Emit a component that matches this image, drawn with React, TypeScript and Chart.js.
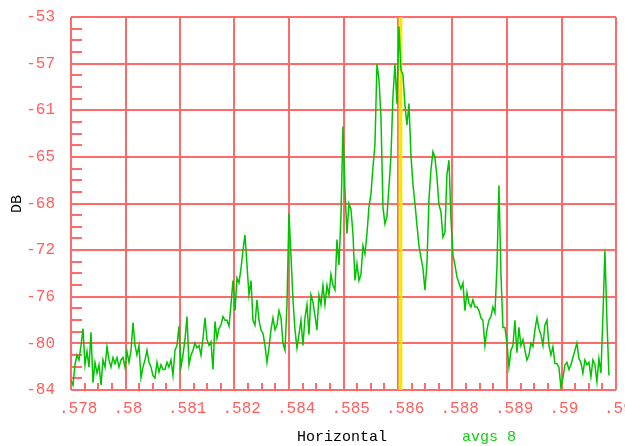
import { useEffect, useRef } from 'react';
import { Chart, registerables } from 'chart.js';

Chart.register(...registerables);

// Frequency bins (evenly spaced spectrum bins)
const freqStart = 0.5782;
const freqStep = 0.0000488;

// Spectrum magnitude in dB
const dbValues = [
  -83.2, -83.6, -81.9, -81.1, -81.5, -80.3, -78.9, -81.9, -80.8, -82.1,
  -79.2, -83.4, -81.7, -82.6, -81.9, -83.6, -81.5, -82.1, -80.4, -81.5,
  -82.1, -81.3, -81.8, -81.3, -82.1, -81.5, -81.3, -82.1, -80.8, -81.7,
  -80.7, -78.4, -80.3, -81.1, -80.3, -83.0, -82.1, -81.5, -80.7, -81.7,
  -82.1, -82.8, -83.0, -81.7, -82.5, -81.9, -82.3,
  -82.3, -81.7, -82.1, -81.5, -82.8, -80.7, -80.3, -78.7, -82.1, -81.1,
  -79.8, -77.9, -81.9, -81.1, -80.7, -80.1, -80.5, -80.3, -81.1, -79.7,
  -78.0, -79.8, -80.3, -80.0, -82.3, -78.3, -79.7, -78.9, -78.6, -77.9,
  -78.2, -78.2, -78.7, -76.9, -74.9, -77.4, -74.7, -75.1, -73.9, -72.4,
  -71.1, -73.6, -76.1, -74.9, -78.2,
  -78.6, -76.5, -78.2, -79.0, -79.3, -80.3, -81.7, -80.5, -79.0, -78.0,
  -79.0, -78.6, -77.4, -78.0, -80.1, -80.7, -76.9, -69.3, -72.8, -76.5,
  -79.0, -80.5, -79.4, -78.2, -80.3, -78.0, -76.9, -79.4, -76.1, -76.7,
  -77.8, -79.0, -76.1, -76.9, -75.3, -76.9, -75.3, -76.1, -74.4, -75.3,
  -75.7, -71.5, -73.6, -69.5,
  -62.1, -67.4, -71.0, -68.5, -69.0, -71.0, -74.9, -73.5, -74.9, -74.4,
  -72.0, -72.7, -71.0, -68.8, -67.7, -65.5, -63.6, -56.9, -58.2, -61.3,
  -68.8, -70.2, -69.6, -67.1, -64.6, -59.6, -56.9, -60.2, -53.8, -57.4,
  -57.8, -60.3, -62.0, -60.2, -64.5, -66.9, -68.5, -70.3, -72.0, -73.0,
  -73.9, -75.7, -73.5, -68.2, -65.7, -64.2, -64.7, -66.3, -68.6, -69.2,
  -71.3, -70.9, -66.1, -64.9, -69.7, -72.8, -73.6, -74.6, -75.1, -75.6,
  -75.1, -77.4, -75.9, -76.8, -77.1, -76.5, -77.1, -77.1, -77.4, -78.0,
  -78.2, -80.3, -79.0, -78.2, -77.9, -77.1, -77.6, -73.8, -67.0, -74.3,
  -78.8, -78.8, -80.1, -82.1, -80.7, -80.3, -78.2, -80.9, -78.8, -80.3,
  -79.8, -80.7, -81.5, -81.1, -80.1, -80.4, -79.0, -78.0, -78.9, -79.4,
  -80.3, -78.6, -78.2, -80.3, -81.1, -80.4, -81.8, -81.8, -82.1, -83.8,
  -83.0, -81.9, -81.7, -82.3, -81.9, -81.3, -80.7, -80.1, -81.4, -81.7,
  -82.6, -81.5, -81.9, -81.7, -82.9, -81.5, -81.9, -83.3, -81.4, -82.6,
  -77.8, -72.4, -78.2, -82.8,
];

const xMin = 0.5782;
const xMax = 0.5915;
const xTickLabels = ['.578', '.58', '.581', '.582', '.584', '.585', '.586', '.588', '.589', '.59', '.591'];
const yMin = -84;
const yMax = -53;
const yTickLabels = ['-84', '-80', '-76', '-72', '-68', '-65', '-61', '-57', '-53'];
const markerFreq = 0.58625;

const xTitle = 'Horizontal';
const yTitle = 'DB';
const avgLabel = 'avgs 8';

const RED = '#ff6a6a';
const LABEL_RED = '#ff6060';
const GREEN = '#00c400';
const FONT = '"Liberation Mono", "DejaVu Sans Mono", monospace';

const decorPlugin = {
  id: 'decor',
  beforeDatasetsDraw(chart: any) {
    const { ctx, chartArea } = chart;
    const xs = chart.scales.x;
    const ys = chart.scales.y;
    ctx.save();
    // minor ticks on y axis (inside, left)
    ctx.strokeStyle = RED;
    ctx.lineWidth = 2;
    const yStep = (yMax - yMin) / (yTickLabels.length - 1);
    for (let i = 0; i < yTickLabels.length - 1; i++) {
      for (let k = 1; k < 4; k++) {
        const py = Math.round(ys.getPixelForValue(yMin + (i + k / 4) * yStep));
        ctx.beginPath();
        ctx.moveTo(chartArea.left, py);
        ctx.lineTo(chartArea.left + 11, py);
        ctx.stroke();
      }
    }
    const xStep = (xMax - xMin) / (xTickLabels.length - 1);
    for (let i = 0; i < xTickLabels.length - 1; i++) {
      for (let k = 1; k < 4; k++) {
        const px = Math.round(xs.getPixelForValue(xMin + (i + k / 4) * xStep));
        ctx.beginPath();
        ctx.moveTo(px, chartArea.bottom);
        ctx.lineTo(px, chartArea.bottom - 7);
        ctx.stroke();
      }
    }
    // marker line
    const mx = xs.getPixelForValue(markerFreq);
    ctx.strokeStyle = '#f4e800';
    ctx.lineWidth = 3;
    ctx.beginPath();
    ctx.moveTo(mx, chartArea.top);
    ctx.lineTo(mx, chartArea.bottom);
    ctx.stroke();
    ctx.strokeStyle = '#ffa040';
    ctx.lineWidth = 1;
    ctx.beginPath();
    ctx.moveTo(Math.round(mx) - 2.5, chartArea.top);
    ctx.lineTo(Math.round(mx) - 2.5, chartArea.bottom);
    ctx.stroke();
    ctx.restore();
  },
  afterDraw(chart: any) {
    const { ctx } = chart;
    ctx.save();
    ctx.font = '15px ' + FONT;
    ctx.textBaseline = 'alphabetic';
    ctx.fillStyle = '#000';
    ctx.textAlign = 'center';
    ctx.fillText(xTitle, 342, 441);
    ctx.fillStyle = '#10d010';
    ctx.textAlign = 'left';
    ctx.fillText(avgLabel, 462, 441);
    ctx.translate(17, 204);
    ctx.rotate(-Math.PI / 2);
    ctx.fillStyle = '#000';
    ctx.textAlign = 'center';
    ctx.textBaseline = 'middle';
    ctx.fillText(yTitle, 0, 0);
    ctx.restore();
  },
};

export default function App() {
  const ref = useRef<HTMLCanvasElement | null>(null);
  useEffect(() => {
    if (!ref.current) return;
    const points = dbValues.map((v, i) => ({ x: freqStart + i * freqStep, y: v }));
    const chart = new Chart(ref.current, {
      type: 'line',
      data: {
        datasets: [
          {
            data: points,
            borderColor: GREEN,
            borderWidth: 1.5,
            pointRadius: 0,
            tension: 0,
            fill: false,
          },
        ],
      },
      options: {
        animation: false,
        responsive: false,
        maintainAspectRatio: false,
        events: [],
        layout: { padding: { left: 0, top: 17, right: 9, bottom: 0 } },
        plugins: { legend: { display: false }, tooltip: { enabled: false } },
        scales: {
          x: {
            type: 'linear',
            min: xMin,
            max: xMax,
            afterBuildTicks: (s: any) => {
              s.ticks = xTickLabels.map((_, i) => ({ value: xMin + (i * (xMax - xMin)) / (xTickLabels.length - 1) }));
            },
            afterFit: (s: any) => {
              s.height = 56;
              s.paddingLeft = 0;
              s.paddingRight = 0;
            },
            ticks: {
              callback: (_v: any, i: number) => xTickLabels[i],
              align: 'start',
              labelOffset: -12,
              padding: 9,
              autoSkip: false,
              maxRotation: 0,
              color: LABEL_RED,
              font: { family: FONT, size: 16 },
            },
            grid: { color: RED, lineWidth: 2, drawTicks: false },
            border: { display: false },
          },
          y: {
            type: 'linear',
            min: yMin,
            max: yMax,
            afterBuildTicks: (s: any) => {
              s.ticks = yTickLabels.map((_, i) => ({ value: yMin + (i * (yMax - yMin)) / (yTickLabels.length - 1) }));
            },
            afterFit: (s: any) => {
              s.width = 71;
              s.paddingTop = 0;
              s.paddingBottom = 0;
            },
            ticks: {
              callback: (_v: any, i: number) => yTickLabels[i],
              padding: 16,
              autoSkip: false,
              color: LABEL_RED,
              font: { family: FONT, size: 16 },
            },
            grid: { color: RED, lineWidth: 2, drawTicks: false },
            border: { display: false },
          },
        },
      },
      plugins: [decorPlugin],
    });
    return () => chart.destroy();
  }, []);
  return (
    <div style={{ position: 'fixed', left: 0, top: 0, width: 625, height: 446, background: '#fff' }}>
      <canvas ref={ref} width={625} height={446} style={{ display: 'block' }} />
    </div>
  );
}
